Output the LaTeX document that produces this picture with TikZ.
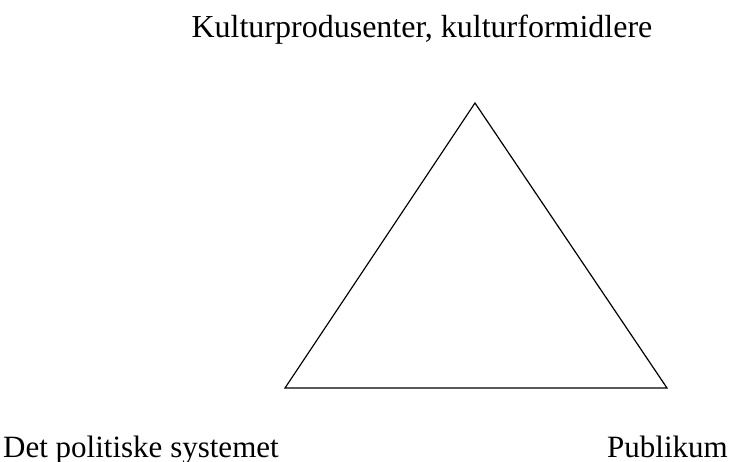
\documentclass[tikz,border=0pt]{standalone}
\usepackage{fontspec}
\setmainfont{Liberation Serif}
\begin{document}
\begin{tikzpicture}[x=1pt,y=-1pt,
  lbl/.style={inner sep=0pt,font=\fontsize{31}{35}\selectfont}]
\useasboundingbox (0,0) rectangle (734,461);
\coordinate (A) at (475,103);
\coordinate (B) at (285,388);
\coordinate (C) at (667,388);
\draw[line width=1.2pt,line join=miter] (A) -- (B) -- (C) -- cycle;
\node[lbl,anchor=base,font=\fontsize{32}{36}\selectfont] (top) at (422,37) {Kulturprodusenter, kulturformidlere};
\node[lbl,anchor=base west] (left) at (3,457) {Det politiske systemet};
\node[lbl,anchor=base east] (right) at (728,457) {Publikum};
\end{tikzpicture}
\end{document}
